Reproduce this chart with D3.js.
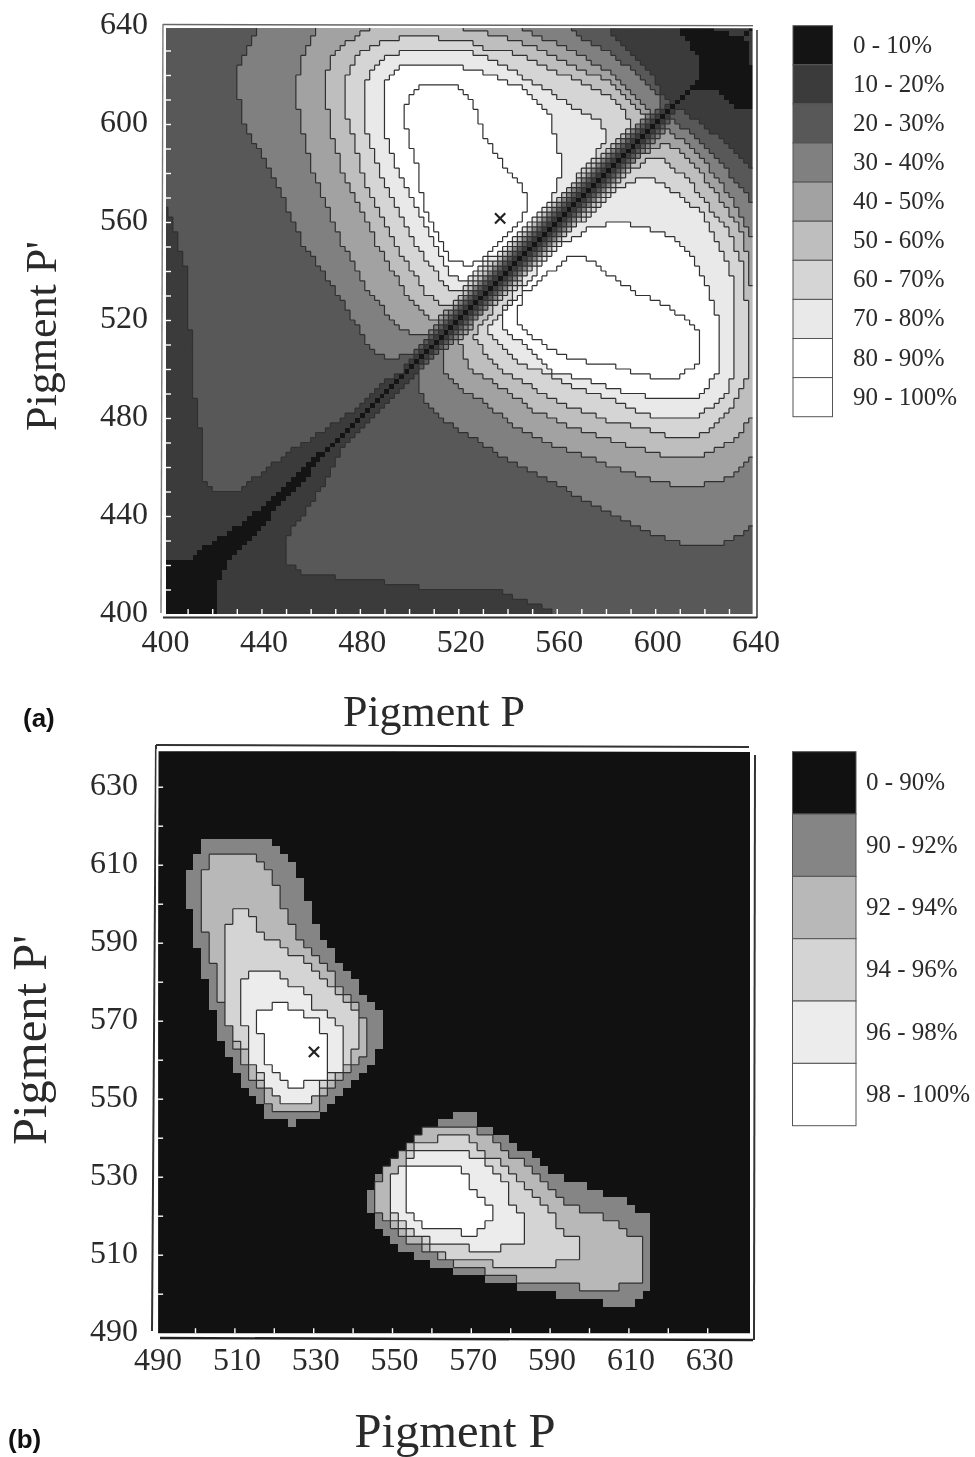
<!DOCTYPE html>
<html>
<head>
<meta charset="utf-8">
<script src="https://cdn.jsdelivr.net/npm/d3@7"></script>
<style>
  html, body { margin: 0; padding: 0; background: #fff; }
  svg { display: block; filter: blur(0.4px); }
  text { font-family: "Liberation Serif", serif; fill: #2a2a2a; }
  .tag { font-family: "Liberation Sans", sans-serif; font-weight: bold; fill: #111; }
  .domain { display: none; }
</style>
</head>
<body>
<svg width="975" height="1457"></svg>
<script>
// legend classes
var legendA = ["0 - 10%", "10 - 20%", "20 - 30%", "30 - 40%", "40 - 50%", "50 - 60%", "60 - 70%", "70 - 80%", "80 - 90%", "90 - 100%"];
var greysA = ["#141414", "#3b3b3b", "#585858", "#808080", "#a2a2a2", "#bebebe", "#d5d5d5", "#e9e9e9", "#ffffff", "#ffffff"];
var legendB = ["0 - 90%", "90 - 92%", "92 - 94%", "94 - 96%", "96 - 98%", "98 - 100%"];
var greysB = ["#111111", "#858585", "#b8b8b8", "#d4d4d4", "#ececec", "#ffffff"];

// tick labels and tick marks
var labelsA = [400, 440, 480, 520, 560, 600, 640];
var marksA = [410, 420, 430, 440, 450, 460, 470, 480, 490, 500, 510, 520, 530, 540, 550, 560, 570, 580, 590, 600, 610, 620, 630];
var labelsB = [490, 510, 530, 550, 570, 590, 610, 630];
var marksB = [500, 510, 520, 530, 540, 550, 560, 570, 580, 590, 600, 610, 620, 630];

// best pigment pair
var bestA = [537, 561.5];
var bestB = [530.2, 562];

// panel a: contours as [P, P'] (nm)
var a0Lower = [[399,423],[412,423],[414,425],[417,427],[423,431],[433,438],[441,444],[448,451],[457,460],[464,466],[470,470],[465,464],[461,459],[455,451],[445,441],[435,430],[427,421],[423,413],[423,399],[399,399]];
var a0Upper = [[608,641],[618,626],[618,618],[611,609],[607,607],[616,615],[626,614],[633,607],[642,606],[642,621],[638,625],[638,631],[636,636],[625,638],[625,641]];
var a2Upper = [[399,567],[401,566],[404,560],[406,551],[409,543],[411,535],[411,516],[412,503],[413,489],[416,471],[417,455],[421,451],[433,451],[436,455],[441,458],[445,461],[453,467],[457,469],[463,473],[473,480],[482,486],[490,495],[496,498],[500,501],[607,608],[603,613],[598,622],[589,631],[582,638],[581,641],[399,641]];
var a2Lower = [[504,498],[496,490],[482,476],[473,467],[463,449],[455,438],[451,432],[451,421],[456,417],[471,415],[490,413],[504,411],[535,411],[543,407],[554,403],[561,400],[568,399],[642,399],[642,580],[630,591],[619,600],[610,606],[607,607],[504,504]];
var a3Upper = [[440,641],[430,623],[430,614],[433,600],[445,579],[457,551],[471,531],[480,516],[484,508],[493,503],[500,507],[504,505],[600,601],[603,610],[587,625],[580,630],[571,634],[566,638],[565,641]];
var a3Lower = [[504,493],[506,487],[513,480],[521,475],[535,466],[550,458],[567,449],[584,440],[596,434],[606,430],[614,428],[625,428],[633,431],[642,438],[642,565],[626,585],[616,595],[608,601],[602,602],[505,505]];
var a4Upper = [[464,641],[458,631],[456,626],[454,615],[456,599],[461,581],[473,551],[484,531],[496,517],[500,515],[506,515],[510,511],[601,602],[591,613],[581,622],[573,626],[565,631],[557,634],[551,637],[546,638],[545,641]];
var a4Lower = [[515,498],[521,492],[531,486],[543,477],[559,469],[578,462],[600,454],[614,452],[627,454],[636,460],[642,466],[642,547],[631,570],[623,581],[614,592],[607,596],[601,601],[515,515]];
var a5Upper = [[487,641],[476,634],[471,629],[468,626],[466,619],[466,609],[468,603],[469,595],[473,580],[487,551],[499,531],[508,521],[513,521],[517,524],[520,521],[599,600],[591,609],[581,618],[573,621],[565,625],[557,629],[549,632],[540,635],[532,637],[522,638],[521,641]];
var a5Lower = [[521,511],[540,538],[567,569],[587,582],[596,588],[604,592],[610,589],[620,578],[629,566],[636,554],[639,535],[642,520],[642,486],[638,479],[633,472],[626,468],[619,464],[606,464],[588,469],[567,476],[551,483],[540,491],[531,497],[525,500],[522,506]];
var a6Upper = [[501,636],[490,634],[484,631],[480,629],[476,623],[474,615],[474,607],[476,599],[482,577],[494,551],[507,531],[513,526],[521,526],[525,524],[595,596],[589,603],[582,611],[574,615],[566,619],[558,622],[550,626],[542,629],[533,630],[527,633],[526,635],[512,635]];
var a6Lower = [[525,512],[540,532],[554,551],[567,564],[584,577],[598,586],[604,585],[614,577],[622,566],[630,556],[636,542],[638,516],[638,498],[634,489],[630,482],[624,476],[616,472],[608,472],[596,476],[581,479],[567,484],[553,491],[540,498],[533,504],[528,511]];
var a7Upper = [[498,630],[488,626],[484,621],[482,614],[482,599],[484,592],[489,578],[502,551],[516,533],[520,532],[527,533],[536,542],[547,553],[557,562],[565,573],[570,581],[576,588],[580,592],[580,597],[577,602],[567,607],[554,615],[540,623],[527,629],[513,631]];
var a7Lower = [[532,516],[538,524],[546,536],[555,549],[563,554],[585,573],[595,578],[600,577],[608,572],[619,564],[624,554],[631,539],[632,512],[632,498],[629,490],[622,484],[618,480],[600,480],[592,483],[581,488],[567,493],[554,499],[546,502],[539,509],[533,515]];
var a8Upper = [[498,624],[496,623],[490,617],[490,613],[491,595],[496,580],[502,568],[509,554],[517,538],[522,536],[533,543],[542,553],[551,561],[558,570],[562,580],[561,589],[557,604],[546,615],[530,621],[522,622],[522,624]];
var a8Lower = [[538,517],[539,523],[547,533],[554,543],[563,551],[574,558],[585,560],[596,558],[606,554],[614,547],[620,536],[626,520],[626,498],[622,494],[618,489],[596,489],[586,491],[574,495],[559,499],[554,503],[546,511],[540,515]];
var a9Upper = [[504,616],[500,611],[498,603],[501,591],[504,580],[506,565],[512,554],[516,546],[518,544],[525,542],[533,547],[543,558],[548,565],[548,570],[546,574],[540,581],[535,588],[531,595],[528,603],[525,611],[518,616],[513,617]];
var a9Lower = [[544,523],[547,531],[557,539],[566,546],[571,546],[581,539],[592,531],[603,527],[612,521],[618,516],[618,503],[614,500],[610,496],[604,496],[592,498],[581,502],[565,504],[557,509],[548,515],[544,518]];

// panel a: the trough along P = P'. half width (nm) inside which the score stays in a class, per station
var troughStations = [400, 500, 520, 540, 560, 580, 600, 620];
var troughWidths = [
  [1, 1, 1, 1, 1, 1, 1, 1],
  [1, 3, 3, 3, 3, 3, 3, 3],
  [1, 5, 5, 5, 5, 5, 5, 5],
  [1, 7, 7, 7, 7, 7, 7, 7],
  [1, 9, 7, 7, 7, 7, 7, 7],
  [1, 11, 9, 9, 9, 9, 9, 9],
  [1, 13, 11, 9, 9, 9, 9, 9],
  [1, 15, 13, 11, 11, 11, 11, 11]
];

// panel b contours
var b1Upper = [[504,617.5],[517.5,617.5],[521.5,614.8],[525.5,610.8],[527.5,604],[529.5,597],[533,590],[537,585],[541,580],[545,574],[547.5,570.5],[547.5,564.5],[545,560],[541,556],[537,552],[533,548],[530.5,544.5],[525,544.5],[525,542.8],[523,542.8],[523,544.5],[519,545],[515.5,549],[511.5,554],[507.5,562],[505.5,568],[503.5,577],[501.5,585],[499.5,595],[497.5,603],[497.5,609],[499.5,610],[501.5,614.8],[504,617]];
var b2Upper = [[503.8,612.9],[515.5,612.9],[517.5,610.3],[519.5,607],[521.4,602],[523.5,596.7],[525.4,592.4],[529.4,588],[533.3,584],[537.2,578.7],[541.2,573.6],[543.2,569.3],[543.2,560.8],[541.2,558.6],[537.2,555.6],[535.1,553],[533,550.5],[530.9,546.7],[521.2,546.7],[519.2,548.8],[517.4,551],[515.5,553],[513.6,557],[511.4,561],[509.5,565],[507.4,572.7],[505.5,577.8],[503.7,589.8],[501.7,596.8],[501.7,608.6],[503.7,610.8]];
var b3Upper = [[509.5,598.8],[513.6,598.8],[515.5,595],[517.5,592],[521.4,589.8],[523.5,587.7],[527.3,585.7],[529.4,583.7],[531.3,581.5],[535.1,578.7],[539.2,574.9],[541.2,570.6],[541.2,562.9],[539.2,560.8],[537.2,556.9],[535.1,555.6],[533,553],[530.9,550.5],[529.2,548.8],[521.6,548.8],[519.2,551],[517.4,554.8],[515.5,556.9],[513.6,560.8],[509.5,565],[507.4,574.9],[507.4,592.8],[509.5,595]];
var b4Upper = [[513.6,582.8],[521.4,582.8],[523.5,579.8],[527.3,577.8],[529.4,574.9],[531.3,572.7],[535.1,570.6],[537.2,568.4],[537.2,556.9],[535.1,556.5],[532.6,554.8],[530.9,551],[529.2,549],[523.3,549],[521.2,551],[519.2,553],[515.5,556.9],[513.6,560.8],[513.6,568.9],[511.4,568.9],[511.4,578.7],[513.6,580.8]];
var b5Upper = [[519.5,574.9],[523.3,574.9],[523.3,572.7],[527.3,572.7],[527.3,570.6],[530.9,570.6],[530.9,566.7],[533.2,566.7],[533.2,555],[523.5,553],[521.2,556.5],[519.2,558.6],[517.4,561.2],[517.4,566.7],[515.5,566.7],[515.5,570.6],[517.5,572.7],[519.5,572.7]];
var b1Lower = [[565.1,546.4],[570.8,546.4],[570.8,544.3],[574.8,542.4],[578.9,540.4],[582.9,537.2],[586.7,535.1],[590.7,531.3],[594.7,529.1],[600.6,527],[606.6,524.8],[610.5,522.7],[614.6,519.9],[616.5,515.9],[616.5,502.2],[614.4,500.2],[612.5,498.2],[608.3,496.2],[602.8,496.2],[602.8,498.2],[590.7,498.2],[590.7,500.2],[580.8,500.2],[580.8,502.2],[572.7,502.2],[572.7,504.3],[564.7,504.3],[564.7,506.5],[560.6,507.6],[556.6,509.5],[552.8,511.5],[550.7,513.6],[546.9,516.5],[544.8,520.6],[542.9,522.7],[542.9,524.4],[544.8,526.6],[544.8,530.7],[546.9,531.7],[548.9,533.7],[551,535.7],[552.8,537.6],[555,539.5],[556.9,541.4],[560.9,543.4],[565.1,545.4]];
var b2Lower = [[556.9,542.4],[570.8,542.4],[574.8,540.4],[577,537.2],[580.8,535.5],[582.9,534.4],[585,532.5],[586.7,530.4],[588.8,528.4],[590.9,525.3],[594.7,523.3],[598.5,521.3],[604.6,519.3],[608.7,517.3],[610.8,515.3],[612.7,514.2],[612.7,502.2],[608.5,502.2],[608.5,500.2],[596.8,500.2],[596.8,502.2],[582.6,502.2],[582.6,504.2],[572.7,506],[564.7,508.2],[560.6,510.3],[556.6,512.5],[552.8,514.6],[550.7,516.3],[548.8,518.4],[546.9,520.6],[544.8,522.7],[544.8,526.6],[546.9,528.7],[549,532.5],[551.1,534.7],[552.8,536.8],[555,538.5],[556.9,540.4]];
var b3Lower = [[560.9,540.4],[568.9,540.4],[570.8,537.7],[574.8,535.5],[577,534.4],[578.9,532.5],[580.8,530.4],[582.9,528.4],[585,526.4],[586.7,524.4],[588.8,522.3],[590.7,520.1],[592.6,516.3],[596.8,514.2],[598.5,512.2],[598.5,508.2],[592.6,508.2],[592.6,506],[574.8,506],[574.8,508.2],[564.7,508.2],[560.6,511.3],[556.6,514.2],[552.8,516.3],[550.7,518.4],[548.8,522.3],[548.8,528.7],[551,531.7],[555,536.4],[556.9,538.5],[560.9,539.4]];
var b4Lower = [[555,535.5],[556.2,536.6],[568.9,536.6],[570.8,534.7],[574.8,533.4],[577,530.4],[578.9,527.4],[580.8,522.3],[582.9,520.1],[582.9,512.2],[578.6,512.2],[578.6,510.3],[568.9,510.3],[568.9,512.2],[560.6,512.5],[556.6,515.4],[552.8,518.4],[550.7,520.4],[548.8,522.5],[548.8,528.7],[550.7,530.4],[552.8,532.5]];
var b5Lower = [[555,532.5],[566.8,532.5],[568.9,529.6],[570.8,527.4],[572.7,525.3],[572.7,522.3],[574.7,522.3],[574.7,518.4],[572.7,517.6],[570.8,514.4],[566.8,514.4],[566.8,516.5],[558.9,516.5],[556.9,518.4],[555,520.4],[552.8,522.5],[552.8,530.4]];

var svg = d3.select("svg");

// score class of every 2 nm cell, built up from the contours
function buildGrid(p0, q0, n, base, layers) {
  var grid = [];
  for (var i = 0; i < n; i++) {
    grid.push([]);
    for (var j = 0; j < n; j++) {
      var pt = [p0 + 2 * i + 1, q0 + 2 * j + 1];
      var level = base;
      layers.forEach(function(l) {
        l.polys.forEach(function(poly) {
          if (d3.polygonContains(poly, pt)) level = l.level;
        });
      });
      grid[i].push(level);
    }
  }
  return grid;
}

function applyTrough(grid, p0, q0) {
  var widthAt = troughWidths.map(function(w) {
    return d3.scaleThreshold().domain(troughStations.slice(1)).range(w);
  });
  grid.forEach(function(col, i) {
    col.forEach(function(level, j) {
      var p = p0 + 2 * i + 1, q = q0 + 2 * j + 1;
      var d = Math.abs(p - q), mid = (p + q) / 2;
      for (var l = 0; l < widthAt.length; l++) {
        if (d < widthAt[l](mid)) {
          col[j] = Math.min(level, l);
          break;
        }
      }
    });
  });
}

function drawPanel(o) {
  var g = svg.append("g");
  var clipId = "clip" + o.name;
  svg.append("clipPath").attr("id", clipId).append("rect")
      .attr("x", o.x(o.x.domain()[0]) + o.inset[0])
      .attr("y", o.y(o.y.domain()[1]) + o.inset[1])
      .attr("width", o.x(o.x.domain()[1]) - o.x(o.x.domain()[0]) - o.inset[0] + o.inset[2])
      .attr("height", o.y(o.y.domain()[0]) - o.y(o.y.domain()[1]) - o.inset[1] + o.inset[3]);
  var plot = g.append("g").attr("clip-path", "url(#" + clipId + ")");

  // one path per class so the cells do not show seams
  var n = o.grid.length;
  var paths = o.greys.map(function() { return d3.path(); });
  var lines = d3.path();
  function cx(i) { return o.x(o.p0 + 2 * i); }
  function cy(j) { return o.y(o.q0 + 2 * j); }
  for (var i = 0; i < n; i++) {
    for (var j = 0; j < n; j++) {
      var l = o.grid[i][j];
      paths[l].rect(cx(i), cy(j + 1), cx(i + 1) - cx(i), cy(j) - cy(j + 1));
      if (i < n - 1 && l != o.grid[i + 1][j] && Math.max(l, o.grid[i + 1][j]) > o.lineFloor) {
        lines.moveTo(cx(i + 1), cy(j));
        lines.lineTo(cx(i + 1), cy(j + 1));
      }
      if (j < n - 1 && l != o.grid[i][j + 1] && Math.max(l, o.grid[i][j + 1]) > o.lineFloor) {
        lines.moveTo(cx(i), cy(j + 1));
        lines.lineTo(cx(i + 1), cy(j + 1));
      }
    }
  }
  plot.selectAll("path.cells")
    .data(paths)
    .enter().append("path")
      .attr("class", "cells")
      .attr("d", function(d) { return d.toString(); })
      .attr("fill", function(d, k) { return o.greys[k]; })
      .attr("shape-rendering", "crispEdges");
  plot.append("path")
      .attr("d", lines.toString())
      .attr("fill", "none")
      .attr("stroke", "#303030")
      .attr("stroke-width", 1.2);

  // cross at the best pair
  plot.append("path")
      .attr("d", d3.symbol().type(d3.symbolTimes).size(o.crossSize)())
      .attr("transform", "translate(" + o.x(o.best[0]) + "," + o.y(o.best[1]) + ")")
      .attr("fill", "none")
      .attr("stroke", "#222")
      .attr("stroke-width", 2.2);

  // double frame
  o.frame.forEach(function(f) {
    g.append("line")
        .attr("x1", f[0]).attr("y1", f[1]).attr("x2", f[2]).attr("y2", f[3])
        .attr("stroke", f[4]).attr("stroke-width", f[5]);
  });

  // small white ticks inside the frame
  var left = o.x(o.x.domain()[0]) + o.inset[0], bottom = o.y(o.y.domain()[0]) + o.inset[3];
  var tickX = g.append("g").attr("transform", "translate(0," + bottom + ")")
      .call(d3.axisBottom(o.x).tickValues(o.marks).tickSize(-5).tickFormat(""));
  var tickY = g.append("g").attr("transform", "translate(" + left + ",0)")
      .call(d3.axisLeft(o.y).tickValues(o.marks).tickSize(-5).tickFormat(""));
  g.selectAll(".tick line").attr("stroke", "#fff").attr("stroke-width", 1.4);

  // tick labels
  var labX = g.append("g").attr("transform", "translate(" + o.labelShift + "," + o.y(o.y.domain()[0]) + ")")
      .call(d3.axisBottom(o.x).tickValues(o.labels).tickSize(0).tickPadding(o.padX));
  var labY = g.append("g").attr("transform", "translate(" + o.x(o.x.domain()[0]) + ",0)")
      .call(d3.axisLeft(o.y).tickValues(o.labels).tickSize(0).tickPadding(o.padY));
  [labX, labY].forEach(function(a) {
    a.attr("font-size", null).attr("font-family", null);
    a.selectAll("text").style("font-size", "32px").attr("fill", null);
  });
  labY.selectAll("text").attr("dy", "0.23em");

  // axis titles
  g.append("text")
      .attr("x", o.titleX[0]).attr("y", o.titleX[1])
      .style("font-size", o.titleSize + "px")
      .attr("text-anchor", "middle")
      .text("Pigment P");
  g.append("text")
      .attr("transform", "translate(" + o.titleY[0] + "," + o.titleY[1] + ") rotate(-90)")
      .style("font-size", o.titleSize + "px")
      .attr("text-anchor", "middle")
      .text("Pigment P'");
  g.append("text")
      .attr("class", "tag")
      .attr("x", o.tag[0]).attr("y", o.tag[1])
      .style("font-size", "26px")
      .text(o.name == "A" ? "(a)" : "(b)");

  // legend
  var band = d3.scaleBand().domain(o.legend).range(o.legendY);
  var leg = g.append("g").selectAll("g")
    .data(o.legend)
    .enter().append("g")
      .attr("transform", function(d) { return "translate(" + o.legendX[0] + "," + band(d) + ")"; });
  leg.append("rect")
      .attr("width", o.legendX[1] - o.legendX[0])
      .attr("height", band.bandwidth())
      .attr("fill", function(d, k) { return o.greys[k]; })
      .attr("stroke", "#555")
      .attr("stroke-width", 1);
  leg.append("text")
      .attr("x", o.legendX[2] - o.legendX[0])
      .attr("y", band.bandwidth() / 2 + 7.5)
      .style("font-size", "25px")
      .text(function(d) { return d; });
}

var xA = d3.scaleLinear().domain([400, 640]).range([163, 753.6]);
var yA = d3.scaleLinear().domain([400, 640]).range([614, 26]);
var gridA = buildGrid(400, 400, 120, 1, [
  {level: 2, polys: [a2Upper, a2Lower]},
  {level: 3, polys: [a3Upper, a3Lower]},
  {level: 4, polys: [a4Upper, a4Lower]},
  {level: 5, polys: [a5Upper, a5Lower]},
  {level: 6, polys: [a6Upper, a6Lower]},
  {level: 7, polys: [a7Upper, a7Lower]},
  {level: 8, polys: [a8Upper, a8Lower]},
  {level: 9, polys: [a9Upper, a9Lower]},
  {level: 0, polys: [a0Lower, a0Upper]}
]);
applyTrough(gridA, 400, 400);

drawPanel({
  name: "A", x: xA, y: yA, grid: gridA, p0: 400, q0: 400, greys: greysA, lineFloor: 1,
  inset: [3, 2, -1, 0], best: bestA, crossSize: 70, marks: marksA, labels: labelsA,
  labelShift: 2, padX: 15, padY: 15, titleX: [434, 726], titleY: [56, 336], titleSize: 44, tag: [23, 727],
  legend: legendA, legendX: [793, 832.5, 853], legendY: [25.7, 416.7],
  frame: [
    [163, 24.5, 753, 25.7, "#666", 1.4], [163, 24, 161, 613, "#777", 1.4],
    [164.7, 27, 753.5, 27.5, "#fff", 1.6], [164.7, 27, 164.7, 615, "#fff", 1.6],
    [754, 27, 754, 615, "#fff", 1.6], [164, 615, 754, 615, "#fff", 1.6],
    [757, 30, 757, 618, "#444", 1.6], [163, 617.5, 757, 617.5, "#333", 2]
  ]
});

var xB = d3.scaleLinear().domain([490, 640]).range([155.6, 746.6]);
var yB = d3.scaleLinear().domain([490, 640]).range([1332.7, 747.7]);
var gridB = buildGrid(489.6, 488.7, 76, 0, [
  {level: 1, polys: [b1Upper, b1Lower]},
  {level: 2, polys: [b2Upper, b2Lower]},
  {level: 3, polys: [b3Upper, b3Lower]},
  {level: 4, polys: [b4Upper, b4Lower]},
  {level: 5, polys: [b5Upper, b5Lower]}
]);

drawPanel({
  name: "B", x: xB, y: yB, grid: gridB, p0: 489.6, q0: 488.7, greys: greysB, lineFloor: 1,
  inset: [2.5, 3.5, 3.5, 0.5], best: bestB, crossSize: 70, marks: marksB, labels: labelsB,
  labelShift: 2, padX: 14.6, padY: 17.6, titleX: [455, 1447], titleY: [46, 1040], titleSize: 48.6, tag: [8, 1448],
  legend: legendB, legendX: [792.5, 856, 866], legendY: [751.7, 1125.7],
  frame: [
    [156, 745, 749, 747, "#333", 2], [156, 745, 152, 1331, "#333", 2],
    [160, 749.5, 751, 751, "#fff", 1.8], [157.5, 749, 156, 1334, "#fff", 2],
    [751, 751, 751, 1335, "#fff", 1.8], [157, 1335, 751, 1335, "#fff", 1.8],
    [755, 755, 754, 1340, "#333", 2], [160, 1338, 753, 1340, "#222", 2.4]
  ]
});
</script>
</body>
</html>
